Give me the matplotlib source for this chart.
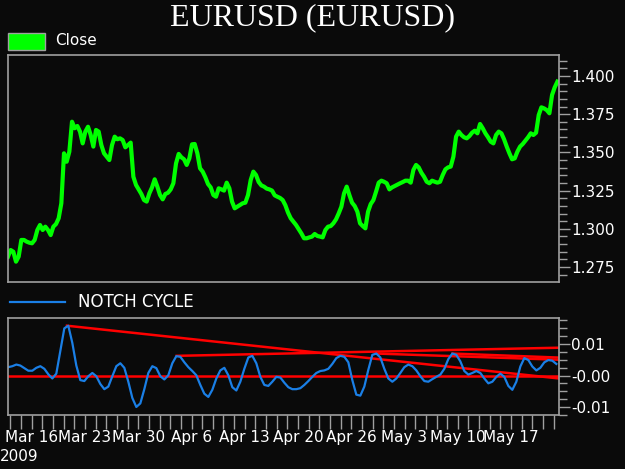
import numpy as np
import matplotlib
matplotlib.use("Agg")
import matplotlib.pyplot as plt
from matplotlib.patches import Rectangle
from matplotlib.lines import Line2D


# EURUSD close (hourly) and the notch cycle oscillator
# x axis = trading days, Mar 12 2009 = day 0 (weekends dropped)

close = [
    1.2818, 1.2861, 1.2850, 1.2785, 1.2818, 1.2927, 1.2927, 1.2916, 1.2909, 1.2905,
    1.2927, 1.2992, 1.3025, 1.2992, 1.3014, 1.2992, 1.2959, 1.3014, 1.3031, 1.3069,
    1.3167, 1.3494, 1.3439, 1.3505, 1.3701, 1.3658, 1.3673, 1.3636, 1.3559, 1.3636,
    1.3668, 1.3614, 1.3538, 1.3647, 1.3636, 1.3548, 1.3494, 1.3472, 1.3450, 1.3548,
    1.3603, 1.3586, 1.3592, 1.3581, 1.3533, 1.3548, 1.3564, 1.3341, 1.3287, 1.3258,
    1.3228, 1.3188, 1.3178, 1.3232, 1.3271, 1.3324, 1.3276, 1.3221, 1.3193, 1.3228,
    1.3236, 1.3258, 1.3298, 1.3428, 1.3490, 1.3468, 1.3455, 1.3418, 1.3461, 1.3553,
    1.3555, 1.3494, 1.3396, 1.3374, 1.3337, 1.3293, 1.3271, 1.3221, 1.3210, 1.3265,
    1.3258, 1.3250, 1.3302, 1.3265, 1.3178, 1.3134, 1.3145, 1.3156, 1.3167, 1.3171,
    1.3221, 1.3319, 1.3374, 1.3352, 1.3306, 1.3284, 1.3276, 1.3263, 1.3258, 1.3250,
    1.3219, 1.3210, 1.3202, 1.3188, 1.3154, 1.3106, 1.3069, 1.3047, 1.3025, 1.2997,
    1.2970, 1.2938, 1.2938, 1.2944, 1.2949, 1.2966, 1.2953, 1.2949,
    1.2944, 1.2992, 1.3014, 1.3018, 1.3036, 1.3062, 1.3101, 1.3145, 1.3232, 1.3276,
    1.3221, 1.3171, 1.3149, 1.3112, 1.3036, 1.3018, 1.3003, 1.3112, 1.3162, 1.3188,
    1.3243, 1.3302, 1.3315, 1.3308, 1.3298, 1.3258, 1.3271, 1.3280, 1.3289, 1.3298,
    1.3306, 1.3315, 1.3315, 1.3302, 1.3385, 1.3418, 1.3402, 1.3367, 1.3341, 1.3308,
    1.3298, 1.3315, 1.3308, 1.3302, 1.3308, 1.3352, 1.3389, 1.3402, 1.3407, 1.3472,
    1.3603, 1.3636, 1.3614, 1.3599, 1.3592, 1.3607, 1.3629, 1.3642, 1.3625, 1.3686,
    1.3658, 1.3625, 1.3599, 1.3570, 1.3559, 1.3614, 1.3636, 1.3625, 1.3586, 1.3538,
    1.3494, 1.3455, 1.3461, 1.3505, 1.3538, 1.3555, 1.3577, 1.3599, 1.3625, 1.3614,
    1.3629, 1.3745, 1.3795, 1.3788, 1.3777, 1.3756, 1.3876, 1.3926, 1.3963,
]

notch = [
    0.00267, 0.00297, 0.00349, 0.00318, 0.00236, 0.00154, 0.00154, 0.00246, 0.00297, 0.00215,
    0.00041, -0.00092, 0.00062, 0.00779, 0.01497, 0.01579, 0.01036, 0.00318, -0.00144, -0.00174,
    -0.00021, 0.00082, -0.00021, -0.00267, -0.00431, -0.00349, -0.00021, 0.00297, 0.00390, 0.00246,
    -0.00195, -0.00708, -0.00995, -0.00882, -0.00431, 0.00082, 0.00297, 0.00236, -0.00021, -0.00123,
    0.00010, 0.00390, 0.00615, 0.00595, 0.00421, 0.00267,
    0.00144, 0.00010, -0.00297, -0.00574, -0.00677, -0.00451, -0.00092, 0.00164, 0.00246, 0.00010,
    -0.00369, -0.00472, -0.00195, 0.00215, 0.00574, 0.00626, 0.00390, -0.00041, -0.00297, -0.00328,
    -0.00195, -0.00041, -0.00062, -0.00226, -0.00369, -0.00431, -0.00431, -0.00400, -0.00297, -0.00174,
    -0.00041, 0.00082, 0.00144, 0.00164, 0.00215, 0.00369, 0.00554, 0.00626, 0.00595, 0.00421,
    -0.00144, -0.00605, -0.00636, -0.00349, 0.00185,
    0.00657, 0.00698, 0.00574, 0.00215, -0.00092, -0.00195, -0.00092, 0.00082, 0.00267, 0.00349,
    0.00297, 0.00164, -0.00021, -0.00174, -0.00195, -0.00113, -0.00041, 0.00031, 0.00215, 0.00523,
    0.00698, 0.00657, 0.00451, 0.00144, 0.00031, 0.00082, 0.00144, 0.00082, -0.00092, -0.00246,
    -0.00195, -0.00041, 0.00062, -0.00041, -0.00328, -0.00451, -0.00195, 0.00287, 0.00554, 0.00492,
    0.00287, 0.00164, 0.00246, 0.00421, 0.00492, 0.00472, 0.00369,
]

# trend lines drawn on the cycle: (start day, start value, end value at right edge)
trend_start_day = [5.3, 15.6, 34.35, 41.5]
trend_start_val = [0.0158, 0.00625, 0.00698, 0.00698]
trend_end_val = [-0.00092, 0.00883, 0.00502, 0.0057]

tick_days = [2, 7, 12, 17, 22, 27, 32, 37, 42, 47]
tick_labels = ["Mar 16", "Mar 23", "Mar 30", "Apr 6", "Apr 13", "Apr 20",
               "Apr 26", "May 3", "May 10", "May 17"]

price_ticks = [1.275, 1.300, 1.325, 1.350, 1.375, 1.400]
cycle_ticks = [-0.01, 0.0, 0.01]
cycle_labels = ["-0.01", "-0.00", "0.01"]


BG = "#0a0a0a"
FRAME = "#a0a0a0"
GREEN = "#00ff00"
BLUE = "#1a7fe6"
RED = "#ff0000"

x_left, x_right = -0.23, 51.5

fig = plt.figure(figsize=(6.25, 4.69), dpi=100, facecolor=BG)

# ---- price panel ----
ax1 = fig.add_axes([0.0128, 0.3987, 0.8816, 0.4840], facecolor=BG)
x_close = np.linspace(-0.23, 51.35, len(close))
ax1.plot(x_close, close, color=GREEN, lw=3.0)
ax1.set_xlim(x_left, x_right)
ax1.set_ylim(1.26518, 1.41374)
ax1.yaxis.tick_right()
ax1.set_yticks(price_ticks)
ax1.set_yticklabels([f"{v:.3f}" for v in price_ticks])
ax1.set_yticks(np.arange(1.270, 1.4131, 0.005), minor=True)
ax1.set_xticks([])
ax1.tick_params(axis="y", which="major", length=8, width=1, color=FRAME,
                labelcolor="white", labelsize=11, pad=1)
ax1.tick_params(axis="y", which="minor", length=6, width=1, color=FRAME)

# ---- cycle panel ----
ax2 = fig.add_axes([0.0128, 0.1151, 0.8816, 0.2069], facecolor=BG)
x_notch = np.linspace(-0.2, 51.25, len(notch))
ax2.axhline(0.0, color=RED, lw=1.8)
for d0, v0, v1 in zip(trend_start_day, trend_start_val, trend_end_val):
    ax2.plot([d0, x_right], [v0, v1], color=RED, lw=1.8)
ax2.plot(x_notch, notch, color=BLUE, lw=1.6)
ax2.set_xlim(x_left, x_right)
ax2.set_ylim(-0.01169, 0.01825)
ax2.yaxis.tick_right()
ax2.set_yticks(cycle_ticks)
ax2.set_yticklabels(cycle_labels)
ax2.set_yticks(np.arange(-0.0125, 0.0176, 0.0025), minor=True)
ax2.tick_params(axis="y", which="major", length=8, width=1, color=FRAME,
                labelcolor="white", labelsize=11, pad=1)
ax2.tick_params(axis="y", which="minor", length=6, width=1, color=FRAME)

# one tick per trading day, labels on Mondays
ax2.set_xticks(tick_days)
ax2.set_xticklabels(tick_labels)
ax2.set_xticks(np.arange(0, 52), minor=True)
ax2.tick_params(axis="x", which="both", length=10, width=1, color=FRAME,
                labelcolor="white", labelsize=11, pad=1)

for ax in (ax1, ax2):
    for s in ax.spines.values():
        s.set_color(FRAME)
        s.set_linewidth(1.2)

# ---- title, legends, year ----
fig.text(0.5, 0.962, "EURUSD (EURUSD)", ha="center", va="center",
         color="white", fontsize=23, family="Liberation Serif")

fig.add_artist(Rectangle((0.0128, 0.8934), 0.0592, 0.0362, transform=fig.transFigure,
                         facecolor=GREEN, edgecolor=FRAME, lw=1))
fig.text(0.088, 0.9126, "Close", ha="left", va="center", color="white", fontsize=11)

fig.add_artist(Line2D([0.016, 0.104], [0.356, 0.356], transform=fig.transFigure,
                      color=BLUE, lw=1.6))
fig.text(0.1248, 0.356, "NOTCH CYCLE", ha="left", va="center", color="white", fontsize=12)

fig.text(0.0, 0.026, "2009", ha="left", va="center", color="white", fontsize=11)

fig.savefig("out.png", dpi=100, facecolor=BG)
